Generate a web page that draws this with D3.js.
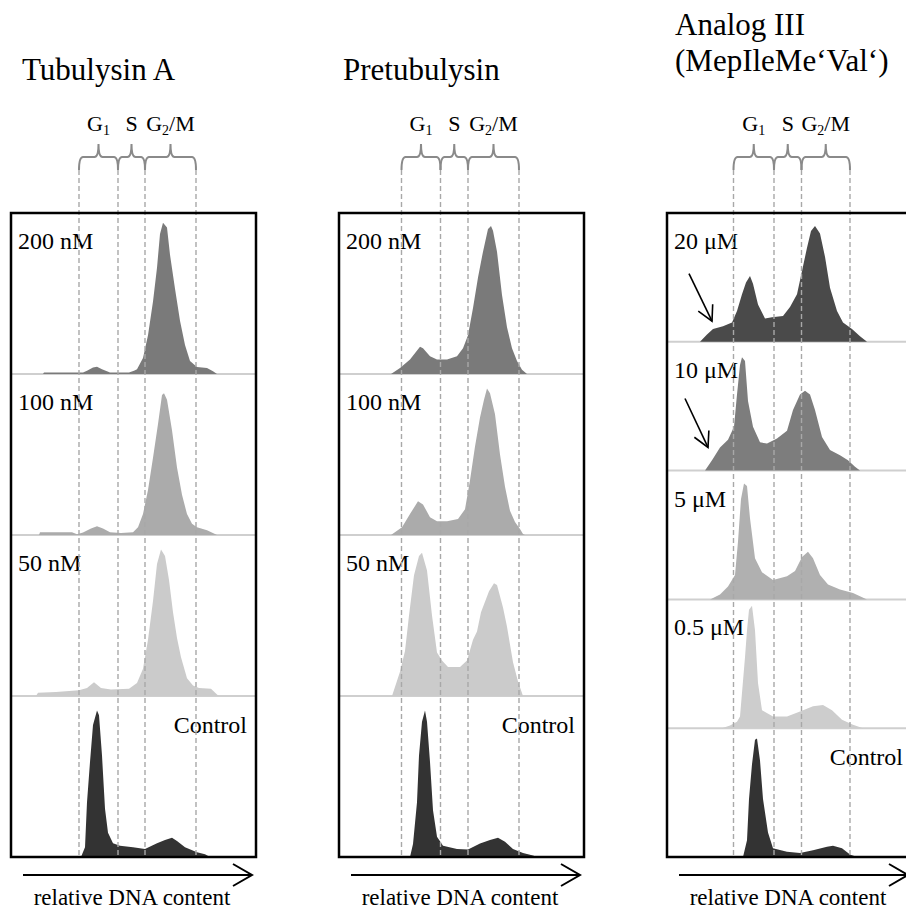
<!DOCTYPE html>
<html>
<head>
<meta charset="utf-8">
<script src="https://cdn.jsdelivr.net/npm/d3@7"></script>
<style>
  body { margin: 0; background: #fff; }
  svg { display: block; font-family: "Liberation Serif", "Times New Roman", serif; }
</style>
</head>
<body>
<div id="chart"></div>
<script>
// ---- data: [channel, % of row height] ----
var phases = ["G1", "S", "G2/M"];

var rowsTubA = ["200 nM", "100 nM", "50 nM", "Control"];
var rowsPre = ["200 nM", "100 nM", "50 nM", "Control"];
var rowsAnalog = ["20 μM", "10 μM", "5 μM", "0.5 μM", "Control"];

// gate boundaries (channel) G1 start, S start, G2/M start, G2/M end
var gatesTubA = [68, 107, 134, 185];
var gatesPre = [62.5, 101.5, 129, 180];
var gatesAnalog = [66.5, 107, 134.5, 183];

var tubA200 = [[32,0],[33,1],[72,1],[76,2],[82,4],[86,4.5],[91,3],[99,1],[118,1],[123,2],[126,3],[132,10],[137,24],[142,45],[146,66],[149,87],[152,94],[156,91],[159,74],[164,53],[169,33],[174,18],[179,8],[186,4.3],[196,3.7],[202,1.7],[206,0]];
var tubA100 = [[28,0],[29,1.7],[61,1.7],[66,0.5],[72,1.5],[80,4],[86,5.4],[92,4],[99,1.7],[110,1.2],[122,1.7],[127,4.8],[132,13],[137,28],[142,48],[147,69],[151,87],[153,88],[156,84],[161,65],[166,42],[171,25],[176,13],[181,7],[186,4.8],[196,3],[204,0.6],[206,0]];
var tubA50 = [[25,0],[27,2],[45,2.5],[68,3.5],[76,5],[83,8.5],[90,5],[100,4],[118,4.5],[126,8],[132,17],[137,35],[142,59],[146,82],[150,91],[154,87],[158,72],[162,52],[166,36],[170,24],[176,11],[182,6.5],[188,5],[200,4.5],[206,1],[208,0]];
var tubACtrl = [[70,0],[74,6],[76,34],[79,59],[82,82],[86,91],[88,88],[91,63],[94,30],[97,15],[102,8.5],[109,7],[122,6],[134,5],[146,8.5],[154,10.5],[161,12],[166,10],[174,6],[186,3],[194,1.7],[199,0]];

var pre200 = [[52,0],[61,3.7],[71,9],[81,17],[84,16],[91,11],[98,9],[108,9],[118,11],[124,16],[129,24],[134,41],[139,60],[144,76],[149,90],[152,92],[154,89],[158,76],[163,49],[168,29],[173,16],[178,8],[183,2.7],[188,0]];
var pre100 = [[52,0],[63,4.8],[71,13],[79,21],[84,19],[91,11],[98,8.5],[108,8.5],[119,10],[126,16],[131,34],[136,55],[141,73],[145,84],[148,91],[151,88],[156,75],[161,50],[166,30],[171,15],[176,8],[181,3.7],[184,0.6],[186,0]];
var pre50 = [[53,0],[61,15],[66,28],[70,50],[75,75],[80,87],[83,89],[88,78],[93,50],[98,27],[103,22],[109,18],[121,18],[128,22],[134,35],[138,40],[142,52],[150,65],[155,70],[158,69],[161,62],[164,55],[168,43],[174,21],[179,9],[184,0]];
var preCtrl = [[71,0],[74,8],[78,34],[80,63],[83,84],[86,91],[88,84],[91,59],[94,29],[98,12.6],[104,7],[118,5],[129,4.6],[141,8.4],[151,10.5],[159,12],[166,9.4],[174,5],[184,2.5],[194,1],[198,0]];

var ana20 = [[33,0],[40,5.7],[46,10],[56,12],[65,15],[70,24],[75,37],[79,46],[83,51],[86,45],[91,29],[98,18],[105,19],[116,20],[123,27],[130,37],[135,55],[140,73],[144,86],[148,90],[153,84],[158,66],[163,42],[170,24],[176,15],[185,10],[193,4.4],[200,0]];
var ana10 = [[38,0],[45,8],[53,18],[61,24],[67,34],[70,59],[73,82],[75,88],[78,85],[81,54],[86,34],[93,22],[100,21],[110,25],[120,31],[126,47],[133,59],[138,62],[143,59],[148,47],[155,26],[163,16],[173,12],[181,8],[188,3],[193,0]];
var ana5 = [[43,0],[53,3.8],[61,10],[68,19],[71,45],[74,78],[77,90],[80,88],[83,63],[88,32],[95,21],[106,15],[120,18],[128,22],[135,33],[141,37],[146,32],[153,19],[161,11.5],[173,7.7],[186,5],[200,0]];
var ana05 = [[55,0],[63,2],[70,5],[73,9],[78,55],[80,76],[82,92],[85,95],[88,76],[91,35],[95,14],[106,9],[120,9],[133,13],[146,17],[156,18],[165,14],[175,6.5],[186,2.6],[196,0]];
var anaCtrl = [[76,0],[80,13],[82,45],[85,72],[88,91],[90,92],[93,75],[96,45],[101,19],[106,6.7],[120,4],[133,3.2],[146,5.3],[160,8],[166,8.8],[175,6.7],[183,2],[190,0]];

// annotation arrows in analog panel: [row, x0, y0, x1, y1] in channel / %
var analogArrows = [[0, 22, 53, 45, 16], [1, 18, 56, 41, 18]];

// ---- layout ----
var width = 906, height = 910;
var frameTop = 213, frameBottom = 857, frameW = 245;
var fourGreys = ["#7a7a7a", "#ababab", "#cbcbcb", "#333333"];
var fiveGreys = ["#4a4a4a", "#7d7d7d", "#b0b0b0", "#cdcdcd", "#333333"];

var panels = [
    { left: 11, title: ["Tubulysin A"], titleX: 11, titleY: 80, rows: rowsTubA, gates: gatesTubA,
      series: [tubA200, tubA100, tubA50, tubACtrl], colors: fourGreys, arrows: [] },
    { left: 339, title: ["Pretubulysin"], titleX: 4, titleY: 80, rows: rowsPre, gates: gatesPre,
      series: [pre200, pre100, pre50, preCtrl], colors: fourGreys, arrows: [] },
    { left: 667, title: ["Analog III", "(MepIleMe‘Val‘)"], titleX: 8, titleY: 35, rows: rowsAnalog, gates: gatesAnalog,
      series: [ana20, ana10, ana5, ana05, anaCtrl], colors: fiveGreys, arrows: analogArrows }
];

var svg = d3.select('#chart').append('svg')
    .attr('width', width)
    .attr('height', height);

var defs = svg.append('defs');
defs.append('marker')
    .attr('id', 'bigHead')
    .attr('markerUnits', 'userSpaceOnUse')
    .attr('viewBox', '0 0 22 24').attr('refX', 20).attr('refY', 12)
    .attr('markerWidth', 22).attr('markerHeight', 24).attr('orient', 'auto')
    .append('path').attr('d', 'M1,1 L20,12 L1,23')
    .attr('fill', 'none').attr('stroke', '#000').attr('stroke-width', 2);
defs.append('marker')
    .attr('id', 'smallHead')
    .attr('markerUnits', 'userSpaceOnUse')
    .attr('viewBox', '0 0 18 18').attr('refX', 16).attr('refY', 9)
    .attr('markerWidth', 18).attr('markerHeight', 18).attr('orient', 'auto')
    .append('path').attr('d', 'M1,1 L16,9 L1,17')
    .attr('fill', 'none').attr('stroke', '#000').attr('stroke-width', 1.6);

function drawPanel(p) {
    var g = svg.append('g').attr('transform', 'translate(' + p.left + ',0)');

    var x = d3.scaleLinear().domain([0, 245]).range([0, frameW]);
    var rowScale = d3.scaleBand().domain(p.rows).range([frameTop, frameBottom]);

    // title
    p.title.forEach(function (t, i) {
        g.append('text')
            .attr('x', p.titleX)
            .attr('y', p.titleY + i * 36)
            .style('font-size', '31px')
            .text(t);
    });

    // histograms
    p.series.forEach(function (s, i) {
        var top = rowScale(p.rows[i]), bottom = top + rowScale.bandwidth();
        var y = d3.scaleLinear().domain([0, 100]).range([bottom, top]);

        g.append('line')
            .attr('x1', 0).attr('x2', frameW)
            .attr('y1', bottom).attr('y2', bottom)
            .attr('stroke', '#cfcfcf').attr('stroke-width', 2);

        var area = d3.area()
            .x(function (d) { return x(d[0]); })
            .y0(bottom)
            .y1(function (d) { return y(d[1]); });

        g.append('path')
            .datum(s)
            .attr('d', area)
            .attr('fill', p.colors[i]);

        var lab = g.append('text').style('font-size', '24px').text(p.rows[i]);
        if (p.rows[i] === 'Control') {
            lab.attr('x', frameW - 9).attr('y', top + 37).attr('text-anchor', 'end');
        } else {
            lab.attr('x', 7).attr('y', top + 36);
        }

        p.arrows.filter(function (a) { return a[0] === i; }).forEach(function (a) {
            g.append('line')
                .attr('x1', x(a[1])).attr('y1', y(a[2]))
                .attr('x2', x(a[3])).attr('y2', y(a[4]))
                .attr('stroke', '#000').attr('stroke-width', 1.6)
                .attr('marker-end', 'url(#smallHead)');
        });
    });

    // gate lines
    g.selectAll('.gate')
        .data(p.gates)
        .enter().append('line')
        .attr('class', 'gate')
        .attr('x1', function (d) { return x(d); })
        .attr('x2', function (d) { return x(d); })
        .attr('y1', 170).attr('y2', frameBottom)
        .attr('stroke', '#a8a8a8').attr('stroke-width', 1.4)
        .attr('stroke-dasharray', '5,3');

    // braces and phase labels
    var yEnd = 170, yBar = 157, yTip = 144, r = 4;
    phases.forEach(function (ph, i) {
        var a = x(p.gates[i]), b = x(p.gates[i + 1]), m = (a + b) / 2;
        var d = 'M' + a + ',' + yEnd + ' Q' + a + ',' + yBar + ' ' + (a + r) + ',' + yBar +
            ' L' + (m - r) + ',' + yBar + ' Q' + m + ',' + yBar + ' ' + m + ',' + yTip +
            ' Q' + m + ',' + yBar + ' ' + (m + r) + ',' + yBar +
            ' L' + (b - r) + ',' + yBar + ' Q' + b + ',' + yBar + ' ' + b + ',' + yEnd;
        g.append('path').attr('d', d)
            .attr('fill', 'none').attr('stroke', '#8a8a8a').attr('stroke-width', 2);

        var t = g.append('text')
            .attr('x', m).attr('y', 131)
            .attr('text-anchor', 'middle')
            .style('font-size', '22px');
        if (ph === 'S') {
            t.text('S');
        } else {
            t.append('tspan').text('G');
            t.append('tspan').attr('dy', 4).style('font-size', '14px').text(ph === 'G1' ? '1' : '2');
            if (ph === 'G2/M') t.append('tspan').attr('dy', -4).text('/M');
        }
    });

    // frame
    g.append('rect')
        .attr('x', 0).attr('y', frameTop)
        .attr('width', frameW).attr('height', frameBottom - frameTop)
        .attr('fill', 'none').attr('stroke', '#000').attr('stroke-width', 2.5);

    // axis arrow
    g.append('line')
        .attr('x1', 12).attr('x2', 241)
        .attr('y1', 875).attr('y2', 875)
        .attr('stroke', '#000').attr('stroke-width', 2)
        .attr('marker-end', 'url(#bigHead)');
    g.append('text')
        .attr('x', 121).attr('y', 905)
        .attr('text-anchor', 'middle')
        .style('font-size', '23px')
        .text('relative DNA content');
}

panels.forEach(drawPanel);
</script>
</body>
</html>
